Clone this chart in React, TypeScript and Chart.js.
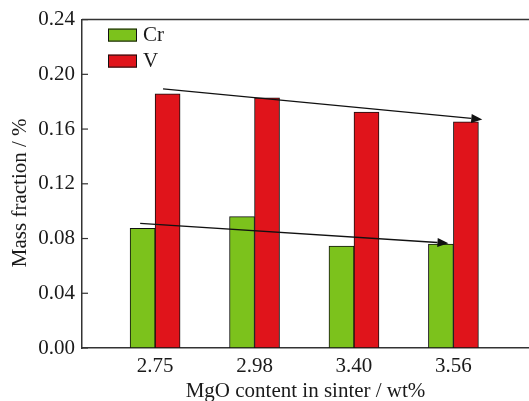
import React, { useEffect, useRef } from "react";
import { Chart, registerables } from "chart.js";

Chart.register(...registerables);

const categories = ["2.75", "2.98", "3.40", "3.56"];
const crValues = [0.0875, 0.096, 0.0744, 0.0759];
const vValues = [0.1857, 0.1828, 0.1724, 0.1653];
const seriesNames = ["Cr", "V"];
const seriesColors = ["#7cc21c", "#e0141b"];
const yTicks = [0, 0.04, 0.08, 0.12, 0.16, 0.2, 0.24];
const xTitle = "MgO content in sinter / wt%";
const yTitle = "Mass fraction / %";
// trend arrows in data units: [categoryIndex, value]
const arrowFrom = [
  [0.08, 0.1893],
  [-0.15, 0.0911],
];
const arrowTo = [
  [3.29, 0.167],
  [2.95, 0.0766],
];

const FONT = "'Liberation Serif', 'Times New Roman', serif";
const FS = 21;
const AXIS = "#333333";
const TEXT = "#1a1a1a";

const overlayPlugin = {
  id: "overlay",
  afterDatasetsDraw(chart: any) {
    const { ctx, chartArea, scales } = chart;
    const xs = scales.x;
    const ys = scales.y;
    ctx.save();
    // top frame line
    ctx.strokeStyle = AXIS;
    ctx.lineWidth = 1.5;
    ctx.beginPath();
    ctx.moveTo(chartArea.left, chartArea.top);
    ctx.lineTo(chartArea.right, chartArea.top);
    ctx.stroke();
    // inward ticks on y axis
    ctx.lineWidth = 1.2;
    yTicks.forEach((t) => {
      const py = ys.getPixelForValue(t);
      ctx.beginPath();
      ctx.moveTo(chartArea.left, py);
      ctx.lineTo(chartArea.left + 6, py);
      ctx.stroke();
    });
    // arrows
    ctx.strokeStyle = "#111";
    ctx.fillStyle = "#111";
    ctx.lineWidth = 1.3;
    arrowFrom.forEach((from, i) => {
      const to = arrowTo[i];
      const x0 = xs.getPixelForValue(from[0]);
      const y0 = ys.getPixelForValue(from[1]);
      const x1 = xs.getPixelForValue(to[0]);
      const y1 = ys.getPixelForValue(to[1]);
      const ang = Math.atan2(y1 - y0, x1 - x0);
      const hl = 11;
      const hw = 4.5;
      const bx = x1 - hl * Math.cos(ang);
      const by = y1 - hl * Math.sin(ang);
      ctx.beginPath();
      ctx.moveTo(x0, y0);
      ctx.lineTo(bx, by);
      ctx.stroke();
      ctx.beginPath();
      ctx.moveTo(x1, y1);
      ctx.lineTo(bx - hw * Math.sin(ang), by + hw * Math.cos(ang));
      ctx.lineTo(bx + hw * Math.sin(ang), by - hw * Math.cos(ang));
      ctx.closePath();
      ctx.fill();
    });
    // legend
    ctx.font = `${FS}px ${FONT}`;
    ctx.textBaseline = "middle";
    ctx.textAlign = "left";
    seriesNames.forEach((name, i) => {
      const bx = chartArea.left + 26;
      const by = chartArea.top + 9 + i * 26;
      ctx.fillStyle = seriesColors[i];
      ctx.fillRect(bx, by, 29, 13);
      ctx.strokeStyle = "#111";
      ctx.lineWidth = 1;
      ctx.strokeRect(bx + 0.5, by + 0.5, 28, 12);
      ctx.fillStyle = TEXT;
      ctx.fillText(name, bx + 35, by + 7);
    });
    // y axis title
    ctx.translate(20, (chartArea.top + chartArea.bottom) / 2 + 9);
    ctx.rotate(-Math.PI / 2);
    ctx.textAlign = "center";
    ctx.textBaseline = "middle";
    ctx.fillStyle = TEXT;
    ctx.fillText(yTitle, 0, 0);
    ctx.restore();
  },
};

export default function App() {
  const ref = useRef<HTMLCanvasElement>(null);
  useEffect(() => {
    if (!ref.current) return;
    const toPts = (vals: number[]) => vals.map((v, i) => ({ x: i, y: v }));
    const chart = new Chart(ref.current, {
      type: "bar",
      data: {
        datasets: [
          {
            label: seriesNames[0],
            data: toPts(crValues) as any,
            backgroundColor: seriesColors[0],
            borderColor: "#111",
            borderWidth: 1,
            borderSkipped: false,
            barThickness: 25,
          },
          {
            label: seriesNames[1],
            data: toPts(vValues) as any,
            backgroundColor: seriesColors[1],
            borderColor: "#111",
            borderWidth: 1,
            borderSkipped: false,
            barThickness: 25,
          },
        ],
      },
      options: {
        animation: false,
        responsive: false,
        maintainAspectRatio: false,
        layout: { padding: { top: 18, right: 0, left: 0, bottom: 0 } },
        plugins: {
          legend: { display: false },
          tooltip: { enabled: false },
        },
        scales: {
          x: {
            type: "linear",
            min: -0.735,
            max: 3.76,
            offset: false,
            grid: { display: false, drawTicks: false },
            border: { display: true, color: AXIS, width: 1.5 },
            afterBuildTicks: (scale: any) => {
              scale.ticks = categories.map((_, i) => ({ value: i }));
            },
            afterFit: (scale: any) => {
              scale.height = 53;
            },
            ticks: {
              autoSkip: false,
              maxRotation: 0,
              padding: 6,
              color: TEXT,
              font: { family: FONT, size: FS },
              callback: (v: any) => categories[Math.round(Number(v))] ?? "",
            },
            title: {
              display: true,
              text: xTitle,
              color: TEXT,
              font: { family: FONT, size: FS },
              padding: { top: 0, bottom: -3 },
            },
          },
          y: {
            min: 0,
            max: 0.24,
            grid: { display: false, drawTicks: false },
            border: { display: true, color: AXIS, width: 1.5 },
            afterBuildTicks: (scale: any) => {
              scale.ticks = yTicks.map((v) => ({ value: v }));
            },
            afterFit: (scale: any) => {
              scale.width = 82;
            },
            ticks: {
              padding: 7,
              color: TEXT,
              font: { family: FONT, size: FS },
              callback: (v: any) => Number(v).toFixed(2),
            },
            title: { display: false },
          },
        },
      },
      plugins: [overlayPlugin],
    });
    return () => chart.destroy();
  }, []);
  return (
    <div style={{ position: "fixed", left: 0, top: 0, width: 529, height: 401, background: "#fff" }}>
      <canvas ref={ref} width={529} height={401} style={{ display: "block" }} />
    </div>
  );
}
